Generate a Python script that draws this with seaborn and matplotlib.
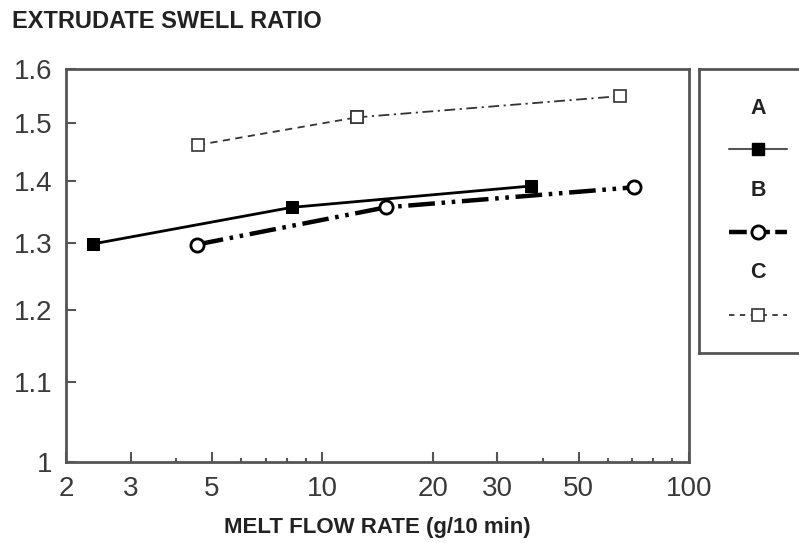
import numpy as np
import pandas as pd
import matplotlib
matplotlib.use("Agg")
import matplotlib.pyplot as plt
import matplotlib.ticker as mticker
from matplotlib.lines import Line2D
import seaborn as sns

# ------------------------------
# Data
# ------------------------------
mfr_a = [2.37, 8.26, 37.0]
swell_a = [1.298, 1.356, 1.391]

mfr_b = [4.55, 14.9, 71.0]
swell_b = [1.297, 1.356, 1.389]

mfr_c = [4.58, 12.4, 65.0]
swell_c = [1.461, 1.510, 1.549]

series_names = ["A", "B", "C"]
x_ticks = [2, 3, 5, 10, 20, 30, 50, 100]
y_ticks = [1.0, 1.1, 1.2, 1.3, 1.4, 1.5, 1.6]
y_tick_labels = ["1", "1.1", "1.2", "1.3", "1.4", "1.5", "1.6"]

df_a = pd.DataFrame({"mfr": mfr_a, "swell": swell_a})
df_b = pd.DataFrame({"mfr": mfr_b, "swell": swell_b})
df_c = pd.DataFrame({"mfr": mfr_c, "swell": swell_c})

# ------------------------------
# Style
# ------------------------------
sns.set_style("ticks")
plt.rcParams["font.family"] = ["Liberation Sans", "DejaVu Sans"]

spine_col = "#555555"
text_col = "#3a3a3a"

style_a = dict(color="black", linewidth=2.0, linestyle="-", marker="s",
               markersize=8.5, markerfacecolor="black", markeredgecolor="black")
style_b = dict(color="black", linewidth=3.2, linestyle=(0, (6, 1.5, 0.8, 1.5, 0.8, 1.5)),
               marker="o", markersize=9.5, markerfacecolor="white",
               markeredgecolor="black", markeredgewidth=2.0)
style_c1 = dict(color="#333333", linewidth=1.3, linestyle=(0, (4, 3)), marker="s",
                markersize=9, markerfacecolor="white", markeredgecolor="#333333",
                markeredgewidth=1.2)
style_c2 = dict(style_c1, linestyle=(0, (6, 2.5, 1.2, 2.5)))

fig = plt.figure(figsize=(7.99, 5.43), dpi=100)
ax = fig.add_axes([66 / 799, 81 / 543, 623 / 799, 393 / 543])

sns.lineplot(data=df_a, x="mfr", y="swell", ax=ax, estimator=None, sort=False, **style_a)
sns.lineplot(data=df_b, x="mfr", y="swell", ax=ax, estimator=None, sort=False, **style_b)
sns.lineplot(data=df_c.iloc[:2], x="mfr", y="swell", ax=ax, estimator=None, sort=False, **style_c1)
sns.lineplot(data=df_c.iloc[1:], x="mfr", y="swell", ax=ax, estimator=None, sort=False, **style_c2)

ax.set_xscale("log")
ax.set_yscale("log")
ax.set_xlim(2, 100)
ax.set_ylim(1.0, 1.6)

ax.xaxis.set_major_locator(mticker.FixedLocator(x_ticks))
ax.xaxis.set_major_formatter(mticker.FixedFormatter([str(v) for v in x_ticks]))
ax.xaxis.set_minor_locator(mticker.FixedLocator([4, 6, 7, 8, 9, 40, 60, 70, 80, 90]))
ax.xaxis.set_minor_formatter(mticker.NullFormatter())
ax.yaxis.set_major_locator(mticker.FixedLocator(y_ticks))
ax.yaxis.set_major_formatter(mticker.FixedFormatter(y_tick_labels))
ax.yaxis.set_minor_locator(mticker.NullLocator())

ax.tick_params(axis="both", which="major", direction="in", length=7, width=1.5,
               color=spine_col, labelsize=20, labelcolor=text_col)
ax.tick_params(axis="x", which="minor", direction="in", length=3, width=1.5, color=spine_col)
ax.tick_params(axis="x", pad=10)
ax.tick_params(axis="y", pad=10)

for sp in ax.spines.values():
    sp.set_color(spine_col)
    sp.set_linewidth(2)

ax.set_xlabel("MELT FLOW RATE (g/10 min)", fontsize=16, fontweight="bold",
              color="#222222", labelpad=11)
ax.set_ylabel("")

fig.text(12 / 799, 1 - 21 / 543, "EXTRUDATE SWELL RATIO", fontsize=17,
         fontweight="bold", color="#222222", ha="left", va="center")

# ------------------------------
# Legend panel (label above line sample)
# ------------------------------
lax = fig.add_axes([699 / 799, 190 / 543, 130 / 799, 284 / 543])
lax.set_xlim(0, 1)
lax.set_ylim(0, 1)
lax.set_xticks([])
lax.set_yticks([])
for sp in lax.spines.values():
    sp.set_color(spine_col)
    sp.set_linewidth(2)

legend_styles = [
    dict(style_a, color="#555555", linewidth=1.5),
    dict(style_b, linestyle=(0, (4, 1.2))),
    dict(style_c1, linestyle=(0, (3, 3))),
]
cx = 59 / 130
half = 29 / 130
for i, (name, st) in enumerate(zip(series_names, legend_styles)):
    ty = 1 - (39 + i * 82) / 284
    sy = 1 - (80 + i * 83) / 284
    lax.text(cx, ty, name, fontsize=15.5, fontweight="bold", color="#222222",
             ha="center", va="center")
    st2 = dict(st)
    st2["markevery"] = [1]
    lax.add_line(Line2D([cx - half, cx, cx + half], [sy, sy, sy], **st2))

fig.savefig("out.png", dpi=100)
